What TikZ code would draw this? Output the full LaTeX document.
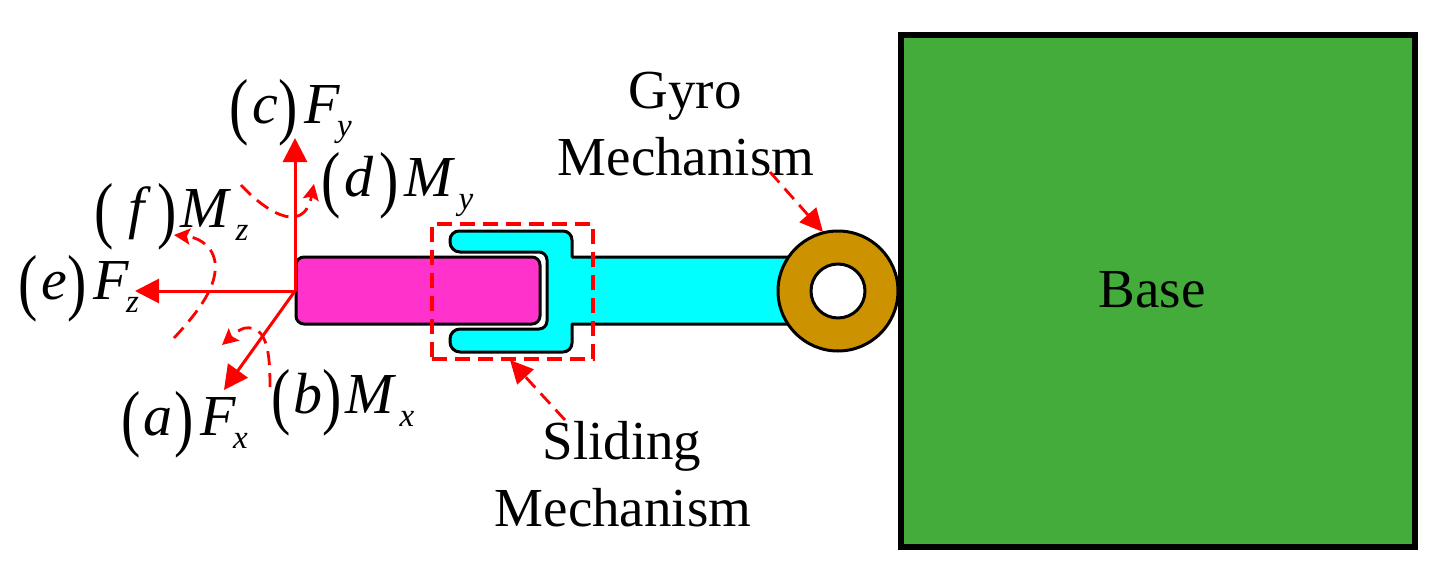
\documentclass[tikz,border=0pt]{standalone}
\usepackage{fontspec}
\usepackage{graphicx}
\setmainfont{Liberation Serif}
\usetikzlibrary{arrows.meta}
\definecolor{basegreen}{RGB}{67,172,58}
\definecolor{ringgold}{RGB}{204,146,0}
\definecolor{armcyan}{RGB}{0,255,255}
\definecolor{blockpink}{RGB}{255,51,204}
\newcommand{\Pa}[1]{\raisebox{-7pt}{\scalebox{1}[1.27]{#1}}}
% \Lab{k1}{letter}{k2}{k3}{Force}{k4}{sub}
\newcommand{\Lab}[7]{{\fontsize{58}{58}\selectfont\Pa{(}\kern#1pt{\itshape #2}\kern#3pt\Pa{)}\kern#4pt{\itshape #5}\kern#6pt\raisebox{-13pt}{\fontsize{33}{33}\selectfont\itshape #7}}}
\tikzset{
  txt/.style={inner sep=0pt,font=\fontsize{55}{55}\selectfont},
  lab/.style={inner sep=0pt,anchor=base west},
  part/.style={draw=black,line width=3pt,line join=round},
  force/.style={draw=red,line width=3pt,-{Triangle[length=24pt,width=24pt]}},
  moment/.style={draw=red,line width=2.8pt,dash pattern=on 14pt off 8pt,-{Stealth[length=16pt,width=16pt,inset=3pt]}},
  leader/.style={draw=red,line width=2.8pt,dash pattern=on 14pt off 8pt,-{Triangle[length=23pt,width=22pt]}},
}
\begin{document}
\begin{tikzpicture}[x=1pt,y=-1pt]
\useasboundingbox (0,0) rectangle (1449,573);
% base
\node[draw=black,fill=basegreen,line width=6pt,minimum width=514pt,minimum height=512pt,inner sep=0pt] (base) at (1158,291) {};
\node[txt] (basetxt) at (1152,290) {Base};
% cyan bar and fork
\draw[part,fill=armcyan] (800,257) -- (572,257) [rounded corners=9pt] -- (572,231) -- (450,231) [rounded corners=10pt] -- (450,252) [rounded corners=8pt] -- (547,252) -- (547,329) [rounded corners=10pt] -- (450,329) -- (450,352) [rounded corners=9pt] -- (572,352) [sharp corners] -- (572,324) -- (800,324) -- cycle;
% pink block
\node[part,fill=blockpink,rounded corners=8pt,minimum width=244pt,minimum height=67pt,inner sep=0pt] (block) at (418,290.5) {};
% ring
\node[circle,part,fill=ringgold,minimum size=120pt,inner sep=0pt] (ring) at (838,291) {};
\node[circle,part,fill=white,minimum size=54pt,inner sep=0pt] (hole) at (838,291) {};
% sliding box
\node[draw=red,line width=3.2pt,dash pattern=on 15pt off 8pt,minimum width=161pt,minimum height=135pt,inner sep=0pt] (slide) at (512.5,291.5) {};
% forces
\coordinate (o) at (295,291);
\coordinate (fy) at (295,138);
\coordinate (fz) at (135,291);
\coordinate (fx) at (224,390);
\draw[force] (o) -- (fy);
\draw[force] (o) -- (fz);
\draw[force] (o) -- (fx);
% moments
\coordinate (d1) at (241,185);
\coordinate (d2) at (314,184);
\coordinate (f1) at (174,338);
\coordinate (f2) at (174,235);
\coordinate (b1) at (270,387);
\coordinate (b2) at (222,345);
\draw[moment] (d1) .. controls (262,208) and (303,238) .. (d2);
\draw[moment] (f1) .. controls (200,310) and (218,285) .. (215,262) .. controls (212,243) and (195,237) .. (f2);
\draw[moment] (b1) .. controls (270,355) and (268,325) .. (245,328) .. controls (237,330) and (230,338) .. (b2);
% mechanism labels
\node[txt] (gyro) at (685,96) {Gyro};
\node[txt] (gyrom) at (686,157) {Mechanism};
\node[txt] (sliding) at (622,446) {Sliding};
\node[txt] (slidem) at (623,508) {Mechanism};
\coordinate (g1) at (770,172);
\coordinate (g2) at (823,232);
\coordinate (s1) at (565,420);
\coordinate (s2) at (510,360);
\draw[leader] (g1) -- (g2);
\draw[leader] (s1) -- (s2);
% force labels
\node[lab] (lc) at (229.5,123) {\Lab{3.7}{c}{0.3}{6.7}{F}{-3}{y}};
\node[lab] (ld) at (321.5,196) {\Lab{3.7}{d}{6}{5.7}{M}{5.7}{y}};
\node[lab] (lf) at (94.5,227) {\Lab{14}{f}{13.4}{3.7}{M}{6.7}{z}};
\node[lab] (le) at (18.5,299) {\Lab{3.7}{e}{0.3}{6.7}{F}{-3}{z}};
\node[lab] (la) at (121.5,435) {\Lab{2.7}{a}{2}{6.7}{F}{-3}{x}};
\node[lab] (lb) at (271.5,413) {\Lab{2.7}{b}{0}{3.7}{M}{5.7}{x}};
\end{tikzpicture}
\end{document}
